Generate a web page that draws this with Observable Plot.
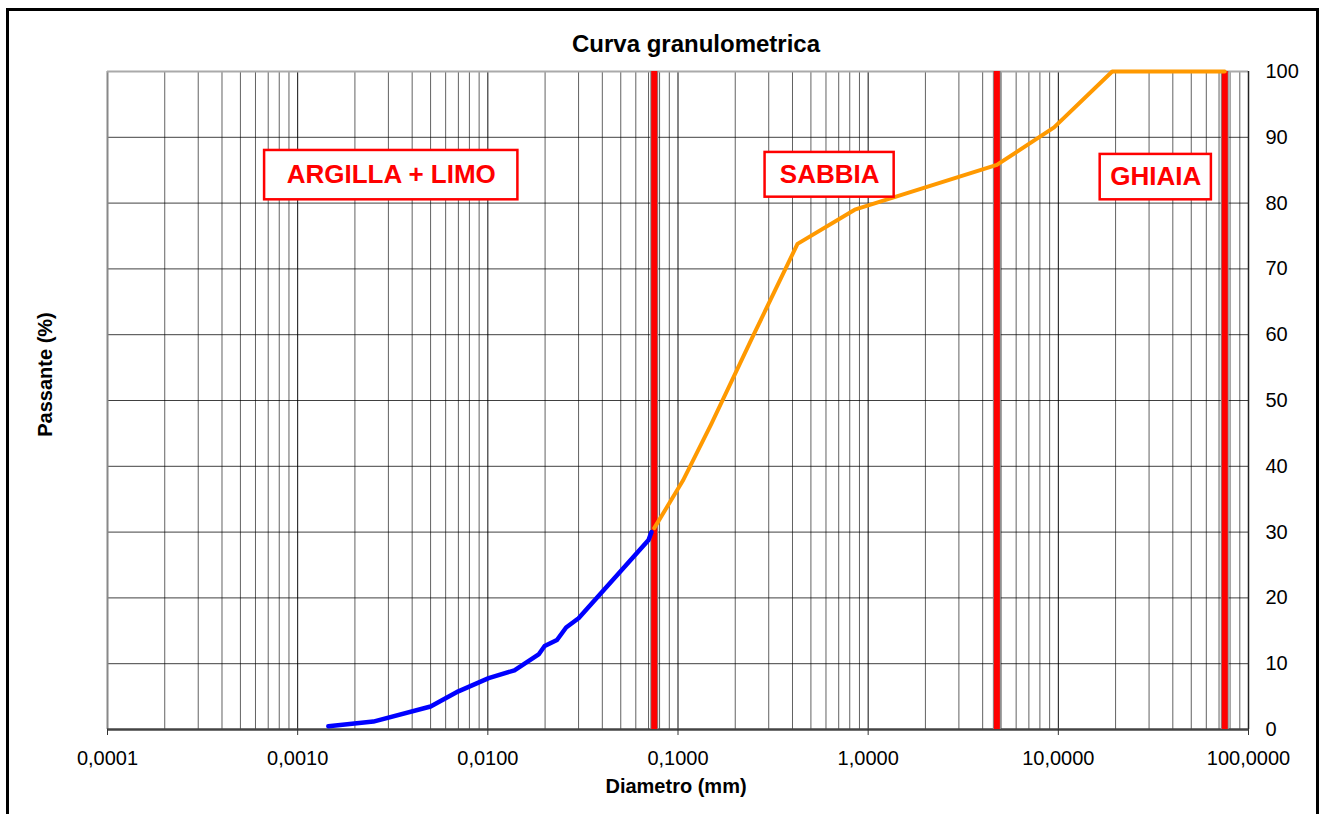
<!DOCTYPE html>
<html>
<head>
<meta charset="utf-8">
<script src="https://cdn.jsdelivr.net/npm/d3@7"></script>
<script src="https://cdn.jsdelivr.net/npm/@observablehq/plot@0.6"></script>
<style>
  body { margin: 0; overflow: hidden; background: #fff; }
  #wrap { position: relative; width: 1323px; height: 814px; overflow: hidden; }
  #border { position: absolute; left: 6px; top: 8px; width: 1313px; height: 1000px; box-sizing: border-box; border: 3px solid #000; pointer-events: none; }
</style>
</head>
<body>
<div id="wrap"><div id="chart"></div><div id="border"></div></div>
<script>
// ---- data ----
const titleText = "Curva granulometrica";
const xLabel = "Diametro (mm)";
const yLabel = "Passante (%)";

// fine fraction (sedimentation) - blue
const fineDiameters = [0.00145, 0.0025, 0.005, 0.007, 0.0101, 0.0138, 0.0185, 0.0199, 0.0231, 0.0258, 0.030, 0.070, 0.0725];
const finePassing   = [0.5,     1.2,    3.5,   5.8,   7.8,    9.0,    11.4,   12.7,   13.6,   15.5,   16.9,  28.8,  30.0];

// coarse fraction (sieving) - orange
const coarseDiameters = [0.075, 0.106, 0.15, 0.25, 0.425, 0.85, 4.75, 9.5, 19.2, 75];
const coarsePassing   = [30.6,  37.8,  46.5, 60.0, 73.8,  79.0, 85.8, 91.5, 100, 100];

// class limits (mm)
const classLimits = [0.075, 4.75, 75];

// class labels with box extents (mm, %)
const classNames = ["ARGILLA + LIMO", "SABBIA", "GHIAIA"];
const boxX1 = [0.00067, 0.287, 16.6];
const boxX2 = [0.01439, 1.37, 63.8];
const boxY1 = [80.5, 80.9, 80.5];
const boxY2 = [88.0, 87.7, 87.4];

// axes
const xDomain = [0.0001, 100];
const yDomain = [0, 100];
const xDecades = [0.0001, 0.001, 0.01, 0.1, 1, 10, 100];
const yTicks = [0, 10, 20, 30, 40, 50, 60, 70, 80, 90, 100];

// ---- build ----
const fine = fineDiameters.map((d, i) => ({d, p: finePassing[i]}));
const coarse = coarseDiameters.map((d, i) => ({d, p: coarsePassing[i]}));
const boxes = classNames.map((name, i) => ({
  name, x1: boxX1[i], x2: boxX2[i], y1: boxY1[i], y2: boxY2[i],
  cx: Math.sqrt(boxX1[i] * boxX2[i]), cy: (boxY1[i] + boxY2[i]) / 2
}));
const minorX = [];
xDecades.slice(0, -1).forEach(dec => { for (let m = 2; m <= 9; m++) minorX.push(dec * m); });
const innerX = xDecades.slice(1, -1);
const innerY = yTicks.slice(1, -1);
const fmt = d => d3.format(".4f")(d).replace(".", ",");
const font = "'Liberation Sans', Arial, sans-serif";

const chart = Plot.plot({
  width: 1323,
  height: 814,
  marginLeft: 107,
  marginRight: 75,
  marginTop: 71,
  marginBottom: 85,
  style: {fontFamily: font, fontSize: "20px", background: "transparent", color: "#000"},
  x: {type: "log", domain: xDomain},
  y: {domain: yDomain},
  marks: [
    // grid
    Plot.ruleX(minorX, {stroke: "#000", strokeOpacity: 0.62, strokeWidth: 1}),
    Plot.ruleX(innerX, {stroke: "#000", strokeOpacity: 0.95, strokeWidth: 1}),
    Plot.ruleY(innerY, {stroke: "#000", strokeOpacity: 0.75, strokeWidth: 1}),
    // plot area border
    Plot.ruleX([xDomain[0]], {stroke: "#888", strokeWidth: 2}),
    Plot.ruleY([yDomain[1]], {stroke: "#aaa", strokeWidth: 2}),
    Plot.ruleX([xDomain[1]], {stroke: "#222", strokeWidth: 1.5}),
    Plot.ruleY([yDomain[0]], {stroke: "#444", strokeWidth: 2.5}),
    // class limits
    Plot.ruleX(classLimits, {stroke: "#888", strokeWidth: 8}),
    Plot.ruleX(classLimits, {stroke: "#ff0000", strokeWidth: 6}),
    // curves
    Plot.line(fine, {x: "d", y: "p", stroke: "#0000ff", strokeWidth: 4.5, strokeLinejoin: "round", strokeLinecap: "round"}),
    Plot.line(coarse, {x: "d", y: "p", stroke: "#ff9900", strokeWidth: 4, strokeLinejoin: "round", strokeLinecap: "round"}),
    // class label boxes
    Plot.rect(boxes, {x1: "x1", x2: "x2", y1: "y1", y2: "y2", fill: "#fff", stroke: "#ff0000", strokeWidth: 2.5}),
    Plot.text(boxes, {x: "cx", y: "cy", text: "name", fill: "#ff0000", fontWeight: "bold", fontSize: 26, textAnchor: "middle", lineAnchor: "middle"}),
    // axes
    Plot.axisX({ticks: xDecades, tickFormat: fmt, tickSize: 6, tickPadding: 15, label: null, stroke: "#333"}),
    Plot.axisY({anchor: "right", ticks: yTicks, tickFormat: d => String(d), tickSize: 0, tickPadding: 17, label: null}),
    // titles
    Plot.text([titleText], {frameAnchor: "top", dx: 18, dy: -27, fontWeight: "bold", fontSize: 24, textAnchor: "middle", lineAnchor: "middle"}),
    Plot.text([xLabel], {frameAnchor: "bottom", dx: -2, dy: 57, fontWeight: "bold", fontSize: 20, textAnchor: "middle", lineAnchor: "middle"}),
    Plot.text([yLabel], {frameAnchor: "left", dx: -62, dy: -26, rotate: -90, fontWeight: "bold", fontSize: 20, textAnchor: "middle", lineAnchor: "middle"})
  ]
});
document.getElementById("chart").appendChild(chart);
</script>
</body>
</html>
